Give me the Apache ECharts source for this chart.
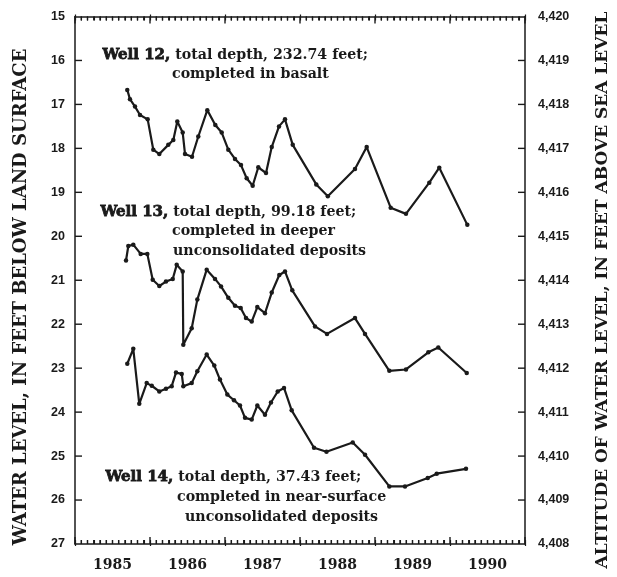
<!DOCTYPE html>
<html>
<head>
<meta charset="utf-8">
<script src="https://cdn.jsdelivr.net/npm/echarts@6/dist/echarts.min.js"></script>
<style>
html,body{margin:0;padding:0;background:#fff;}
#chart{width:617px;height:577px;}
</style>
</head>
<body>
<div id="chart"></div>
<script>
// Decimal year dates and water levels (feet below land surface)
var well12Dates = [1985.697,1985.733,1985.800,1985.867,1985.969,1986.044,1986.124,1986.244,1986.311,1986.364,1986.436,1986.467,1986.560,1986.644,1986.764,1986.871,1986.956,1987.044,1987.133,1987.213,1987.289,1987.369,1987.444,1987.547,1987.623,1987.720,1987.800,1987.903,1988.217,1988.371,1988.733,1988.889,1989.209,1989.413,1989.724,1989.857,1990.231];
var well12Levels = [16.67,16.88,17.05,17.24,17.34,18.03,18.13,17.92,17.81,17.39,17.64,18.13,18.19,17.73,17.13,17.47,17.64,18.03,18.24,18.38,18.68,18.85,18.43,18.56,17.97,17.50,17.34,17.92,18.82,19.09,18.47,17.97,19.35,19.49,18.78,18.44,19.74];

var well13Dates = [1985.680,1985.711,1985.777,1985.876,1985.964,1986.036,1986.124,1986.213,1986.303,1986.356,1986.436,1986.444,1986.556,1986.631,1986.756,1986.867,1986.947,1987.044,1987.133,1987.209,1987.280,1987.356,1987.431,1987.533,1987.623,1987.724,1987.800,1987.897,1988.200,1988.360,1988.733,1988.867,1989.191,1989.413,1989.711,1989.844,1990.223];
var well13Levels = [20.55,20.22,20.19,20.40,20.40,20.99,21.13,21.03,20.97,20.65,20.80,22.47,22.09,21.44,20.76,20.97,21.14,21.40,21.58,21.63,21.86,21.94,21.61,21.75,21.28,20.88,20.80,21.23,22.05,22.22,21.86,22.22,23.06,23.03,22.64,22.53,23.11];

var well14Dates = [1985.697,1985.777,1985.857,1985.956,1986.023,1986.124,1986.213,1986.289,1986.347,1986.423,1986.444,1986.556,1986.631,1986.756,1986.857,1986.933,1987.031,1987.120,1987.200,1987.267,1987.356,1987.431,1987.533,1987.613,1987.703,1987.787,1987.889,1988.187,1988.353,1988.703,1988.867,1989.191,1989.400,1989.703,1989.823,1990.213];
var well14Levels = [22.90,22.56,23.81,23.34,23.40,23.53,23.47,23.41,23.10,23.13,23.41,23.34,23.07,22.69,22.94,23.26,23.60,23.73,23.85,24.13,24.17,23.85,24.06,23.78,23.53,23.45,23.96,24.81,24.90,24.69,24.97,25.69,25.69,25.50,25.40,25.29];

var yearLabels = ['1985','1986','1987','1988','1989','1990'];
var yearTicks = [1985, 1986, 1987, 1988, 1989, 1990, 1991];
var monthsPerYear = 12;
var leftTicks = [16, 17, 18, 19, 20, 21, 22, 23, 24, 25, 26];
var leftTickMin = 15, leftTickMax = 27;
var rightTickMin = 4408, rightTickMax = 4420;
var xMin = 1985, xMax = 1991;

function pairs(xs, ys){ return xs.map(function(x,i){ return [x, ys[i]]; }); }

var serif = '"DejaVu Serif", "Liberation Serif", serif';
var sans = '"Liberation Sans", Arial, sans-serif';
var ink = '#1a1a1a';

// tick marks: [x, y, kind(0 = x-axis tick, 1 = y-axis tick), length]
var tickMarks = [];
yearTicks.forEach(function(y){ tickMarks.push([y, leftTickMin, 0, 7]); });
yearTicks.slice(0, -1).forEach(function(y){
  for (var m = 1; m < monthsPerYear; m++) tickMarks.push([y + m / monthsPerYear, leftTickMin, 0, 4]);
});
leftTicks.forEach(function(v){ tickMarks.push([xMin, v, 1, 7]); });

var chart = echarts.init(document.getElementById('chart'));

function lineSeries(name, xs, ys){
  return {
    name: name, type: 'line', xAxisIndex: 0, yAxisIndex: 0,
    data: pairs(xs, ys),
    symbol: 'circle', symbolSize: 4.5,
    lineStyle: {color: ink, width: 2.2},
    itemStyle: {color: ink},
    animation: false, z: 3
  };
}

function seg(x1, y1, x2, y2){
  return {type: 'line', shape: {x1: x1, y1: y1, x2: x2, y2: y2}, style: {stroke: ink, lineWidth: 1.4}};
}

var tickSeries = {
  type: 'custom', name: 'ticks', xAxisIndex: 0, yAxisIndex: 0, silent: true, z: 10, clip: false,
  encode: {x: 0, y: 1}, data: tickMarks, animation: false,
  renderItem: function(params, api){
    var kind = api.value(2), len = api.value(3);
    if (kind === 0) {
      var t = api.coord([api.value(0), leftTickMin]);
      var b = api.coord([api.value(0), leftTickMax]);
      return {type: 'group', children: [seg(t[0], t[1], t[0], t[1] + len), seg(b[0], b[1], b[0], b[1] - len)]};
    }
    var l = api.coord([xMin, api.value(1)]);
    var r = api.coord([xMax, api.value(1)]);
    return {type: 'group', children: [seg(l[0], l[1], l[0] + len, l[1]), seg(r[0], r[1], r[0] - len, r[1])]};
  }
};

var frameLine = {show: true, onZero: false, lineStyle: {color: ink, width: 1.5}};
var noLine = {show: false, onZero: false};

// tick-only axis copy offset inward; its outward ticks point back to the frame
function xTickAxis(pos){
  return {type: 'value', min: xMin, max: xMax, interval: 1, position: pos, offset: -4, z: 5,
    axisLine: noLine, axisTick: {show: true, inside: false, length: 6, lineStyle: {color: ink, width: 1.2}},
    minorTick: {show: true, splitNumber: 12, length: 4, lineStyle: {color: ink, width: 1.1}},
    axisLabel: {show: false}, splitLine: {show: false}};
}

chart.setOption({
  backgroundColor: '#fff',
  animation: false,
  grid: {left: 75, right: 92, top: 16.5, bottom: 33, containLabel: false},
  xAxis: [
    {type: 'value', min: xMin, max: xMax, interval: 1, position: 'bottom', z: 5,
     axisLine: frameLine, axisTick: {show: false}, axisLabel: {show: false}, splitLine: {show: false}},
    {type: 'value', min: xMin, max: xMax, interval: 1, position: 'top', z: 5,
     axisLine: frameLine, axisTick: {show: false}, axisLabel: {show: false}, splitLine: {show: false}},
    {type: 'category', data: yearLabels, position: 'bottom', boundaryGap: true,
     axisLine: {show: false}, axisTick: {show: false}, splitLine: {show: false},
     axisLabel: {show: true, margin: 14, color: ink, fontFamily: serif, fontWeight: 'bold', fontSize: 14}},
    xTickAxis('bottom'),
    xTickAxis('top')
  ],
  yAxis: [
    {type: 'value', inverse: true, min: leftTickMin, max: leftTickMax, interval: 1, position: 'left', z: 5,
     axisLine: frameLine, axisTick: {show: false},
     axisLabel: {show: true, margin: 10, color: ink, fontFamily: sans, fontWeight: 'bold', fontSize: 12.5},
     splitLine: {show: false}},
    {type: 'value', min: rightTickMin, max: rightTickMax, interval: 1, position: 'right', z: 5,
     axisLine: frameLine, axisTick: {show: false},
     axisLabel: {show: true, margin: 13, color: ink, fontFamily: sans, fontWeight: 'bold', fontSize: 12.5,
       formatter: function(v){ return echarts.format.addCommas(v); }},
     splitLine: {show: false}}
  ],
  series: [
    tickSeries,
    lineSeries('Well 12', well12Dates, well12Levels),
    lineSeries('Well 13', well13Dates, well13Levels),
    lineSeries('Well 14', well14Dates, well14Levels)
  ],
  graphic: (function(){
    var base = {fill: ink, fontFamily: serif, fontWeight: 'bold', fontSize: 14.2, textVerticalAlign: 'middle'};
    function txt(x, y, text){
      return {type: 'text', left: x, top: y - 9, style: Object.assign({}, base, {text: text}), silent: true};
    }
    function head(x, y, well, rest){
      return {type: 'text', left: x, top: y - 9, silent: true,
        style: Object.assign({}, base, {
          text: '{w|' + well + '} ' + rest,
          rich: {w: {fill: ink, fontFamily: serif, fontWeight: 'bold', fontSize: 15, textStroke: ink, textStrokeWidth: 0.8, stroke: ink, lineWidth: 0.8}}
        })};
    }
    function vtitle(cx, cy, text, size){
      return {type: 'text', x: cx, y: cy, rotation: Math.PI / 2, silent: true,
        style: {text: text, fill: ink, fontFamily: serif, fontWeight: 'bold', fontSize: size,
                align: 'center', verticalAlign: 'middle'}};
    }
    return [
      vtitle(21, 297, 'WATER LEVEL, IN FEET BELOW LAND SURFACE', 18),
      vtitle(603, 290, 'ALTITUDE OF WATER LEVEL, IN FEET ABOVE SEA LEVEL', 17),
      head(102, 56, 'Well 12,', 'total depth, 232.74 feet;'),
      txt(172, 76, 'completed in basalt'),
      head(100, 213, 'Well 13,', 'total depth, 99.18 feet;'),
      txt(172, 233, 'completed in deeper'),
      txt(173, 253, 'unconsolidated deposits'),
      head(105, 478, 'Well 14,', 'total depth, 37.43 feet;'),
      txt(177, 499, 'completed in near-surface'),
      txt(185, 519, 'unconsolidated deposits')
    ];
  })()
});
</script>
</body>
</html>
